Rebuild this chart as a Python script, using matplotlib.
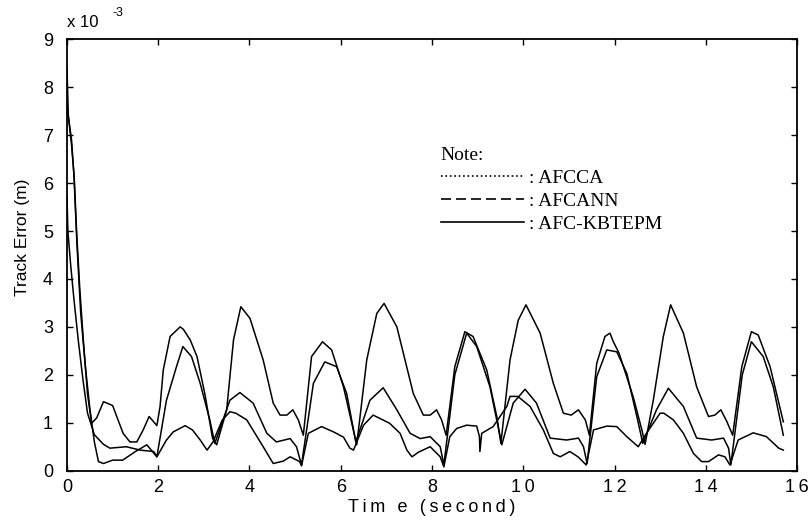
"""Track error comparison: AFCCA / AFCANN / AFC-KBTEPM."""

import matplotlib
matplotlib.use("Agg")
import matplotlib.pyplot as plt
from matplotlib.lines import Line2D

# Track error values in units of 1e-3 m
t_afcca = [0.0, 0.03, 0.1, 0.16, 0.21, 0.28, 0.36, 0.45, 0.54, 0.65, 0.8, 1.0, 1.23, 1.38,
           1.53, 1.67, 1.8, 1.9, 1.97, 2.04, 2.11, 2.26, 2.48, 2.55, 2.7, 2.85, 3.02, 3.19,
           3.28, 3.5, 3.65, 3.81, 4.01, 4.3, 4.52, 4.67, 4.82, 4.95, 5.07, 5.18, 5.36, 5.6,
           5.8, 6.06, 6.35, 6.57, 6.79, 6.95, 7.23, 7.59, 7.81, 7.96, 8.1, 8.21, 8.31, 8.5,
           8.72, 8.9, 9.2, 9.42, 9.51, 9.71, 9.89, 10.06, 10.37, 10.66, 10.88, 11.05, 11.21,
           11.36, 11.45, 11.61, 11.79, 11.9, 11.97, 12.1, 12.41, 12.6, 12.67, 12.85, 13.07,
           13.23, 13.51, 13.8, 14.06, 14.2, 14.33, 14.46, 14.59, 14.79, 15.0, 15.15, 15.41,
           15.7]
e_afcca = [8.4, 7.4, 6.8, 6.1, 5.0, 3.8, 2.7, 1.6, 0.99, 1.1, 1.44, 1.36, 0.78, 0.6,
           0.6, 0.85, 1.13, 1.02, 0.94, 1.34, 2.1, 2.8, 3.0, 2.95, 2.73, 2.38, 1.61, 0.68,
           0.54, 1.27, 2.73, 3.42, 3.18, 2.31, 1.41, 1.16, 1.16, 1.27, 1.06, 0.74, 2.38, 2.69,
           2.52, 1.75, 0.54, 2.31, 3.28, 3.49, 3.0, 1.61, 1.16, 1.16, 1.27, 1.06, 0.74, 2.17,
           2.9, 2.8, 2.1, 1.13, 0.57, 2.31, 3.14, 3.46, 2.87, 1.82, 1.2, 1.16, 1.27,
           1.06, 0.74, 2.24, 2.8, 2.87, 2.7, 2.45, 1.54, 0.85, 0.55, 1.47, 2.8,
           3.46, 2.87, 1.75, 1.13, 1.16, 1.27, 1.03, 0.74, 2.17, 2.9, 2.83, 2.17,
           1.02]

t_afcann = [0.0, 0.02, 0.08, 0.15, 0.25, 0.35, 0.45, 0.6, 0.8, 0.94, 1.3, 1.6, 1.9, 1.97,
            2.18, 2.4, 2.54, 2.73, 2.92, 3.13, 3.24, 3.57, 3.79, 4.08, 4.38, 4.59, 4.89,
            5.03, 5.14, 5.4, 5.65, 5.91, 6.13, 6.33, 6.64, 6.93, 7.23, 7.52, 7.74, 7.96,
            8.18, 8.26, 8.5, 8.76, 8.98, 9.27, 9.53, 9.78, 10.04, 10.29, 10.59, 10.95,
            11.21, 11.32, 11.4, 11.61, 11.83, 12.05, 12.27, 12.49, 12.62, 12.92, 13.18,
            13.51, 13.8, 14.13, 14.39, 14.5, 14.55, 14.8, 15.0, 15.26, 15.48, 15.7]
e_afcann = [5.7, 5.0, 4.3, 3.6, 2.7, 1.9, 1.2, 0.75, 0.55, 0.47, 0.5, 0.43, 0.4, 0.29,
            1.47, 2.17, 2.59, 2.38, 1.82, 1.06, 0.57, 1.47, 1.63, 1.41, 0.78, 0.6, 0.67,
            0.5, 0.12, 1.82, 2.27, 2.17, 1.61, 0.6, 1.47, 1.73, 1.27, 0.78, 0.67, 0.71,
            0.5, 0.12, 2.0, 2.87, 2.59, 1.75, 0.54, 1.41, 1.7, 1.41, 0.68, 0.64,
            0.68, 0.5, 0.15, 1.96, 2.52, 2.48, 2.03, 1.13, 0.57, 1.27, 1.72,
            1.34, 0.68, 0.64, 0.68, 0.47, 0.12, 2.0, 2.69, 2.38, 1.75, 0.74]

t_kbtepm = [0.0, 0.1, 0.15, 0.22, 0.3, 0.4, 0.5, 0.6, 0.69, 0.8, 1.0, 1.22, 1.5, 1.75,
            1.97, 2.18, 2.33, 2.59, 2.75, 2.92, 3.07, 3.2, 3.4, 3.57, 3.7, 3.94, 4.3, 4.52,
            4.74, 4.89, 5.1, 5.14, 5.29, 5.58, 5.84, 6.06, 6.2, 6.28, 6.5, 6.71, 7.07, 7.3,
            7.45, 7.56, 7.71, 7.96, 8.18, 8.26, 8.39, 8.54, 8.76, 8.98, 9.04, 9.05, 9.09,
            9.34, 9.64, 9.71, 9.88, 10.15, 10.44, 10.66, 10.81, 11.02, 11.2, 11.38, 11.54,
            11.83, 12.05, 12.27, 12.52, 12.7, 13.0, 13.08, 13.29, 13.51, 13.73, 13.91,
            14.06, 14.28, 14.42, 14.53, 14.71, 15.04, 15.33, 15.6, 15.7]
e_kbtepm = [7.6, 6.9, 6.2, 4.7, 3.3, 2.2, 1.3, 0.6, 0.19, 0.15, 0.22, 0.22, 0.4, 0.54,
            0.29, 0.64, 0.81, 0.94, 0.85, 0.64, 0.43, 0.6, 1.05, 1.23, 1.2, 1.06, 0.5, 0.15,
            0.2, 0.29, 0.19, 0.1, 0.78, 0.92, 0.81, 0.7, 0.47, 0.43, 0.95, 1.16, 0.99, 0.78,
            0.43, 0.29, 0.39, 0.5, 0.29, 0.08, 0.71, 0.88, 0.95, 0.93, 0.71, 0.4, 0.78,
            0.92, 1.34, 1.55, 1.55, 1.34, 0.85, 0.36, 0.29, 0.4, 0.29, 0.12, 0.85,
            0.93, 0.92, 0.71, 0.5, 0.78, 1.2, 1.2, 1.06, 0.78, 0.36, 0.19,
            0.19, 0.33, 0.29, 0.12, 0.64, 0.79, 0.71, 0.47, 0.43]

labels = [": AFCCA", ": AFCANN", ": AFC-KBTEPM"]
legend_styles = [":", (0, (6, 3)), "-"]

x_ticks = list(range(0, 17, 2))
y_ticks = list(range(0, 10))

THIN = "\u2009"  # the original labels are letter-spaced

plt.rcParams["font.family"] = ["Liberation Sans", "DejaVu Sans"]

fig = plt.figure(figsize=(8.08, 5.23), dpi=100)
ax = fig.add_axes([0.0829, 0.10, 0.9035, 0.8249])

# the curves in the original figure are all drawn as solid lines
for t, e in [(t_afcca, e_afcca), (t_afcann, e_afcann), (t_kbtepm, e_kbtepm)]:
    ax.plot(t, e, color="black", lw=1.1, ls="-")

ax.set_xlim(0, 16)
ax.set_ylim(0, 9)
ax.set_xticks(x_ticks)
ax.set_xticklabels([THIN.join(str(v)) for v in x_ticks])
ax.set_yticks(y_ticks)
ax.tick_params(direction="in", length=4, width=1, top=True, right=True,
               labelsize=13, colors="black")
ax.tick_params(axis="x", pad=6)
ax.tick_params(axis="y", pad=10)
for sp in ax.spines.values():
    sp.set_linewidth(1.3)

ax.set_xlabel(THIN.join("Tim e (second)"), fontsize=13, labelpad=2)
ax.set_ylabel("Track Error (m)", fontsize=12.5)
ax.yaxis.set_label_coords(-0.05, 0.54)

ax.text(0.0, 1.022, "x 10", transform=ax.transAxes, fontsize=12, ha="left", va="bottom")
ax.text(0.062, 1.048, "-3", transform=ax.transAxes, fontsize=9, ha="left", va="bottom")

handles = [Line2D([], [], color="black", lw=1.2, ls=s) for s in legend_styles]
leg = ax.legend(handles, labels, title="Note:", loc="upper left",
                bbox_to_anchor=(0.512, 0.75), frameon=False, handlelength=4.3,
                handletextpad=0.25, labelspacing=0.28, borderpad=0, borderaxespad=0,
                alignment="left", prop={"family": "Liberation Serif", "size": 14},
                title_fontproperties={"family": "Liberation Serif", "size": 14})

fig.savefig("out.png", dpi=100)
